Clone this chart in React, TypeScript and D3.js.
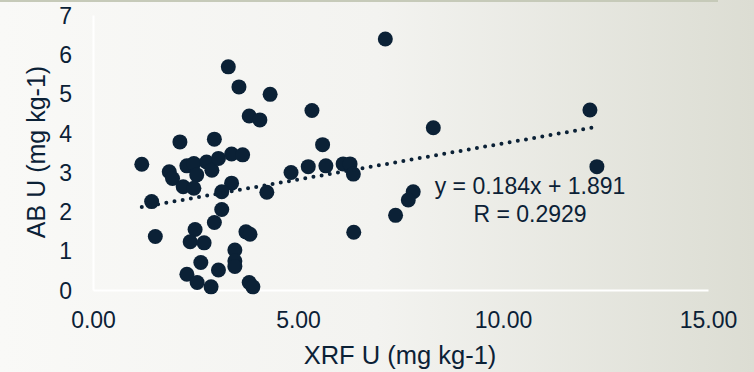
import React, { useEffect, useRef } from "react";
import * as d3 from "d3";

// XRF U vs AB U (mg kg-1)
const xrfU = [
  3.3, 3.56, 4.32, 5.34, 3.81, 4.07, 2.12, 2.96, 5.6, 7.13,
  1.19, 1.86, 1.94, 2.29, 2.46, 2.53, 2.2, 2.46, 2.77, 2.9,
  3.06, 3.38, 3.65, 3.38, 3.14, 1.43, 3.14, 2.96, 2.49, 2.37,
  2.71, 1.52, 3.73, 3.83, 3.46, 3.46, 3.46, 2.63, 3.06, 2.29,
  2.54, 2.88, 3.81, 3.9, 4.24, 4.83, 5.25, 5.68, 6.1, 6.27,
  6.35, 6.36, 8.3, 12.12, 12.29, 7.81, 7.69, 7.38,
];
const abU = [
  5.68, 5.17, 4.98, 4.57, 4.43, 4.33, 3.77, 3.84, 3.7, 6.39,
  3.2, 3.01, 2.84, 3.16, 3.22, 2.93, 2.63, 2.59, 3.26, 3.05,
  3.35, 3.46, 3.44, 2.72, 2.5, 2.25, 2.05, 1.72, 1.54, 1.23,
  1.2, 1.36, 1.48, 1.42, 1.02, 0.74, 0.6, 0.7, 0.51, 0.4,
  0.19, 0.08, 0.19, 0.08, 2.49, 2.99, 3.14, 3.16, 3.21, 3.21,
  2.95, 1.47, 4.13, 4.58, 3.14, 2.5, 2.29, 1.9,
];

const xTicks = [0, 5, 10, 15];
const yTicks = [0, 1, 2, 3, 4, 5, 6, 7];
const slope = 0.184;
const intercept = 1.891;
const equationLabel = "y = 0.184x + 1.891";
const rLabel = "R = 0.2929";

const W = 754;
const H = 372;
const ink = "#0b2136";
const font = "'Liberation Sans', Arial, sans-serif";

export default function App() {
  const ref = useRef<SVGSVGElement>(null);

  useEffect(() => {
    const svg = d3.select(ref.current);
    svg.selectAll("*").remove();

    const defs = svg.append("defs");
    const grad = defs
      .append("linearGradient")
      .attr("id", "bg")
      .attr("x1", "0%")
      .attr("x2", "100%")
      .attr("y1", "0%")
      .attr("y2", "0%");
    grad.append("stop").attr("offset", "0%").attr("stop-color", "#f9f9f7");
    grad.append("stop").attr("offset", "50%").attr("stop-color", "#f3f3f0");
    grad.append("stop").attr("offset", "100%").attr("stop-color", "#dcddd3");

    svg.append("rect").attr("width", W).attr("height", H).attr("fill", "url(#bg)");
    svg
      .append("rect")
      .attr("x", 0)
      .attr("y", 0)
      .attr("width", 718)
      .attr("height", 2)
      .attr("fill", "#c6cab9");

    const x = d3.scaleLinear().domain([0, 15]).range([93, 708]);
    const y = d3.scaleLinear().domain([0, 7]).range([290, 15]);

    // axes
    const xAxis = svg
      .append("g")
      .attr("transform", "translate(0,290)")
      .call(
        d3
          .axisBottom(x)
          .tickValues(xTicks)
          .tickSize(0)
          .tickPadding(0)
          .tickFormat((d) => d3.format(".2f")(d as number))
      );
    xAxis.select(".domain").attr("stroke", "#ffffff").attr("stroke-width", 2);
    xAxis
      .selectAll("text")
      .attr("y", 38)
      .attr("dy", null)
      .attr("fill", ink)
      .style("font-family", font)
      .style("font-size", "23px");

    const yAxis = svg
      .append("g")
      .attr("transform", "translate(93,0)")
      .call(
        d3
          .axisLeft(y)
          .tickValues(yTicks)
          .tickSize(0)
          .tickPadding(0)
          .tickFormat((d) => d3.format("d")(d as number))
      );
    yAxis.select(".domain").attr("stroke", "#ffffff").attr("stroke-width", 2);
    yAxis
      .selectAll("text")
      .attr("x", -21)
      .attr("dy", "0.36em")
      .attr("fill", ink)
      .style("font-family", font)
      .style("font-size", "23px");

    // points
    svg
      .append("g")
      .selectAll("circle")
      .data(xrfU.map((v, i) => [v, abU[i]]))
      .join("circle")
      .attr("cx", (d) => x(d[0]))
      .attr("cy", (d) => y(d[1]))
      .attr("r", 7.5)
      .attr("fill", ink);

    // dotted trend line
    const [x0, x1] = d3.extent(xrfU) as [number, number];
    const line = d3
      .line<number>()
      .x((d) => x(d))
      .y((d) => y(slope * d + intercept));
    svg
      .append("path")
      .attr("d", line([x0, x1]))
      .attr("fill", "none")
      .attr("stroke", ink)
      .attr("stroke-width", 4)
      .attr("stroke-linecap", "round")
      .attr("stroke-dasharray", "0 8.3");

    const eq = svg
      .append("g")
      .attr("fill", ink)
      .style("font-family", font)
      .style("font-size", "23px")
      .attr("text-anchor", "middle");
    eq.append("text").attr("x", 530).attr("y", 194).text(equationLabel);
    eq.append("text").attr("x", 530).attr("y", 222).text(rLabel);

    // titles
    svg
      .append("text")
      .attr("x", 400)
      .attr("y", 364)
      .attr("text-anchor", "middle")
      .attr("fill", ink)
      .style("font-family", font)
      .style("font-size", "25.5px")
      .text("XRF U (mg kg-1)");
    svg
      .append("text")
      .attr("transform", "translate(45,152) rotate(-90)")
      .attr("text-anchor", "middle")
      .attr("fill", ink)
      .style("font-family", font)
      .style("font-size", "25px")
      .text("AB U (mg kg-1)");
  }, []);

  return (
    <svg
      ref={ref}
      width={W}
      height={H}
      style={{ position: "absolute", left: 0, top: 0, display: "block" }}
    />
  );
}
